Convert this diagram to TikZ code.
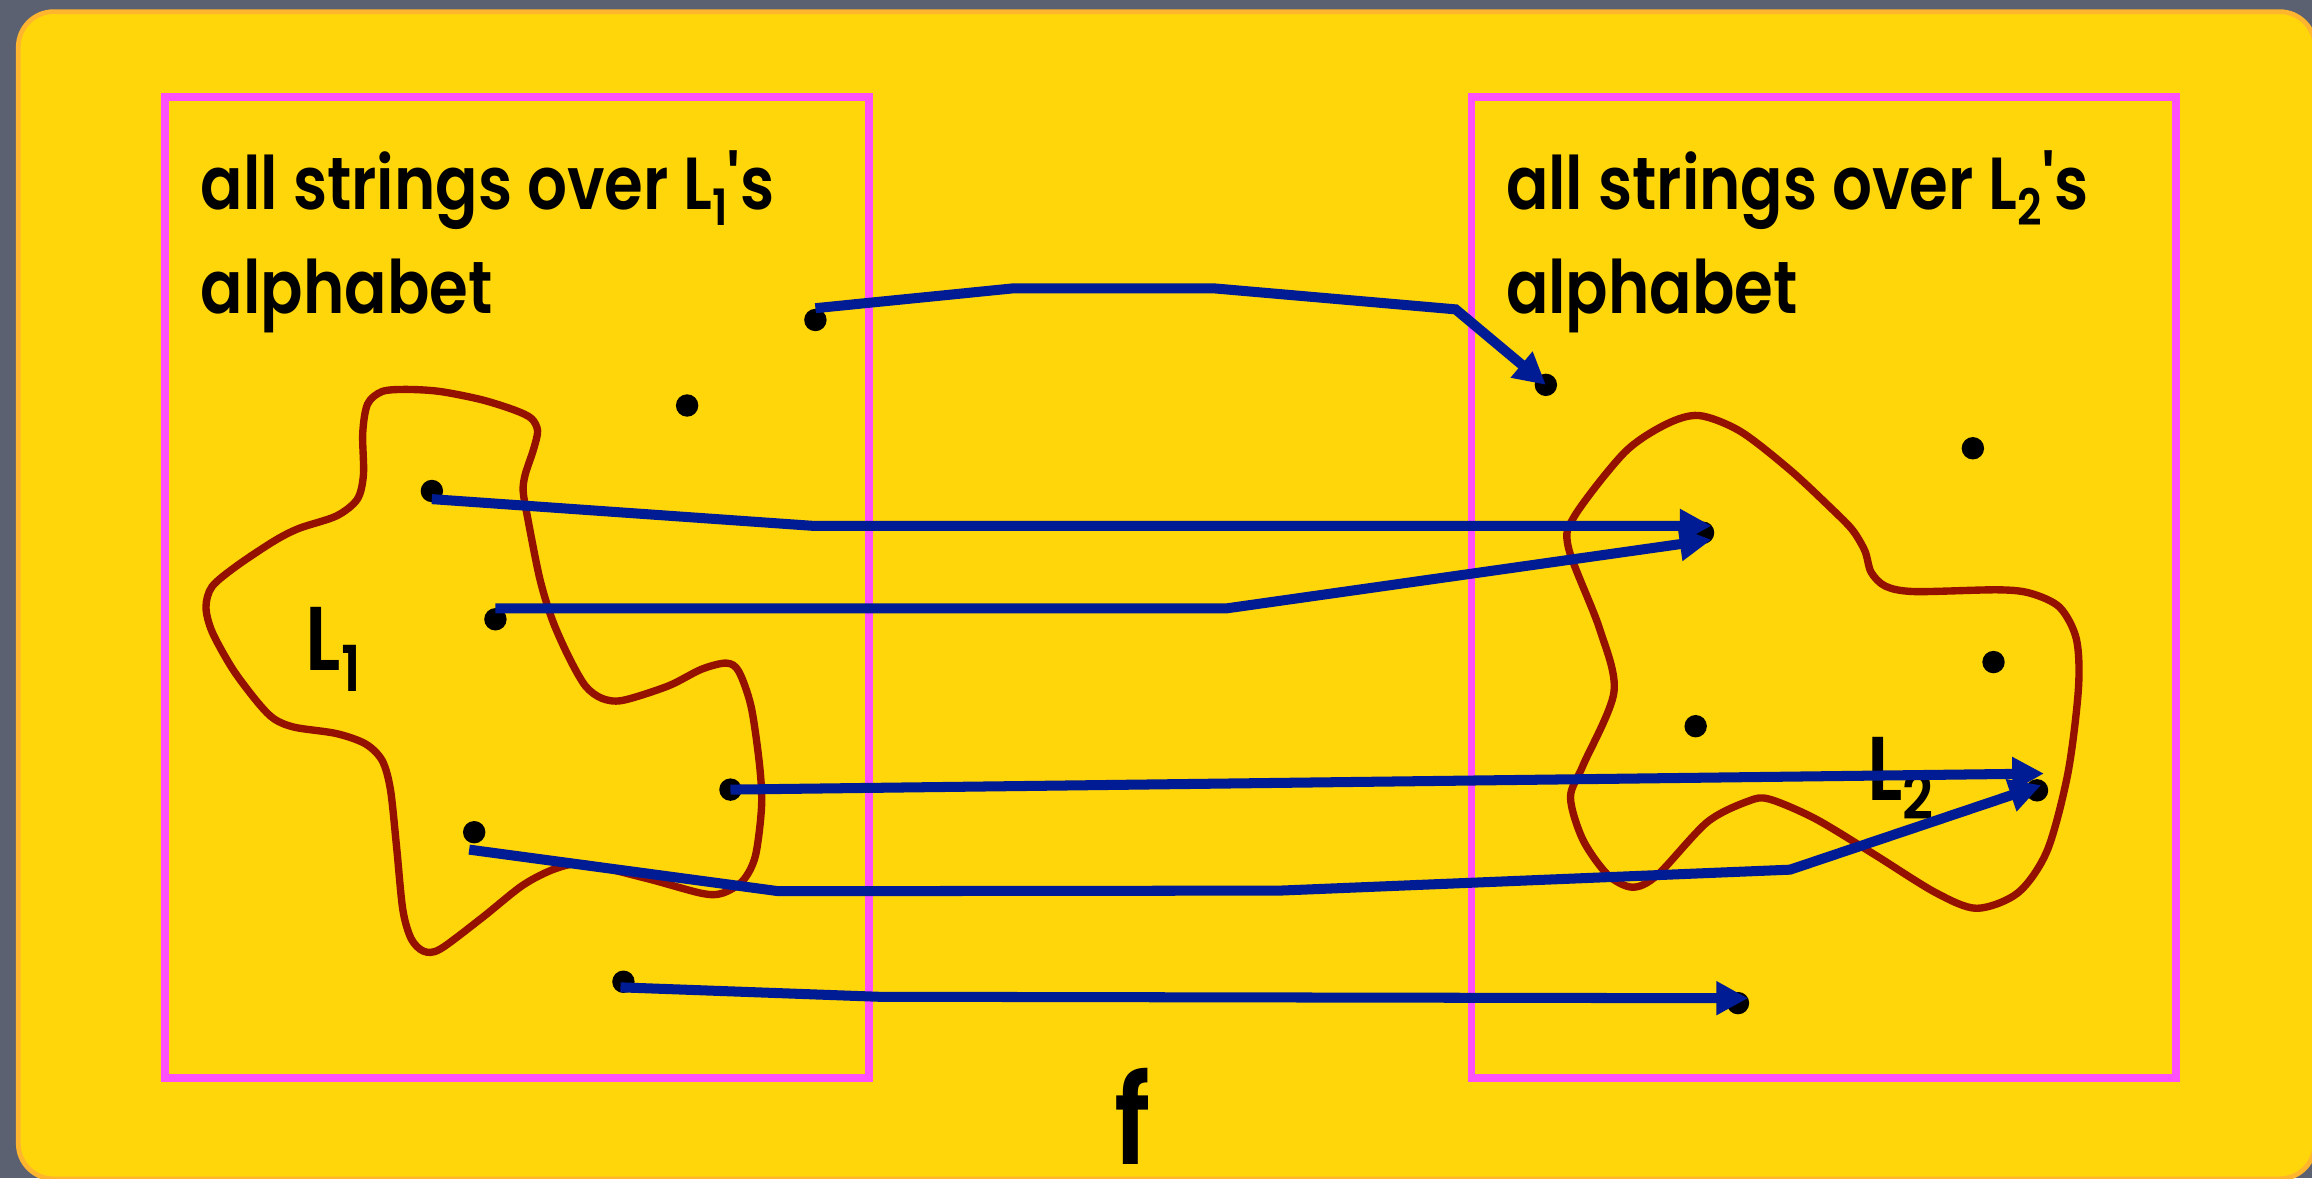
\documentclass[tikz,border=0pt]{standalone}
\usepackage{fontspec}
\newfontfamily\fut{Poppins SemiBold}[FakeStretch=0.85,Ligatures=TeXOff]
\usetikzlibrary{arrows.meta,calc}
\definecolor{bgdark}{HTML}{5C6172}
\definecolor{boardyellow}{HTML}{FFD60A}
\definecolor{boardedge}{HTML}{FFB62E}
\definecolor{boxpink}{HTML}{FF50FA}
\definecolor{blobred}{HTML}{941100}
\definecolor{mapblue}{HTML}{001C94}
\newcommand\lsub[3]{\raisebox{-#2}{\fontsize{#1}{#1}\selectfont #3}}
\begin{document}
\begin{tikzpicture}[x=0.5pt,y=-0.5pt,
  dot/.style={circle,fill=black,inner sep=0pt,minimum size=7.6pt},
  setbox/.style={draw=boxpink,line width=2.6pt},
  blob/.style={draw=blobred,line width=2.5pt},
  maparrow/.style={draw=mapblue,line width=3.4pt,-{Triangle[length=10.75pt,width=10.85pt]}},
  txt/.style={inner sep=0pt,anchor=base west,font=\fut\fontsize{25}{30}\selectfont},
  lbl/.style={inner sep=0pt,anchor=base west,font=\fut\fontsize{30.7}{36}\selectfont},
]
\fill[bgdark] (0,0) rectangle (1568,799);
\useasboundingbox (0,0) rectangle (1568,799);
\filldraw[fill=boardyellow,draw=boardedge,line width=1.6pt,rounded corners=12pt] (12.4,7.9) rectangle (1570,799.5);

% the two sets
\draw[setbox] (111.8,65.6) rectangle (589.3,731);
\draw[setbox] (998,65.6) rectangle (1475.6,731);

% languages
\draw[blob] plot[smooth cycle,tension=0.5] coordinates {
(259.2,265.5) (276.0,264.1) (298.5,265.5) (326.7,271.1) (349.2,278.2) (360.4,283.8)
(364.6,292.2) (361.8,304.9) (356.2,321.8) (354.8,333.0) (357.6,349.9) (366.0,392.1)
(374.5,420.2) (385.7,445.5) (397.0,465.2) (408.2,473.6) (422.3,475.0) (453.2,465.2)
(475.7,453.9) (492.6,449.7) (501.0,455.3) (509.4,479.2) (515.1,518.6) (516.5,546.7)
(512.3,580.5) (503.8,597.3) (489.8,605.8) (475.7,605.8) (439.1,595.9) (397.0,586.1)
(377.3,588.9) (354.8,600.2) (326.7,622.6) (298.5,643.7) (287.3,645.1) (278.9,636.7)
(273.2,617.0) (269.0,574.8) (264.8,535.5) (259.2,515.8) (247.9,504.5) (228.2,497.5)
(200.1,493.3) (186.1,487.7) (174.8,476.4) (157.9,453.9) (143.9,428.6) (139.7,411.7)
(143.9,397.7) (160.8,383.6) (186.1,366.8) (202.9,358.3) (228.2,349.9) (242.3,338.6)
(246.5,321.8) (246.0,293.6) (249.3,274.0)};
\draw[blob] plot[smooth cycle,tension=0.5] coordinates {
(1152.3,281.8) (1180.4,292.6) (1214.1,318.8) (1242.3,345.1) (1256.3,359.4) (1264.8,373.7)
(1269.0,388.1) (1278.8,397.6) (1298.5,401.2) (1354.8,400.0) (1377.2,402.4) (1396.9,411.9)
(1408.2,433.4) (1409.6,466.8) (1402.5,524.1) (1388.5,576.6) (1368.8,605.3) (1340.7,616.0)
(1312.6,605.3) (1270.4,579.0) (1231.0,555.2) (1200.1,542.0) (1186.0,543.2) (1157.9,557.5)
(1124.2,593.3) (1107.3,601.7) (1090.4,593.3) (1073.5,569.5) (1065.1,540.8) (1073.5,519.3)
(1094.6,469.2) (1084.8,426.3) (1063.7,371.4) (1067.9,349.9) (1101.7,306.9) (1129.8,287.8)};

% texts
\node[txt] (h1a) at (135.8,142) {all strings over L\lsub{17pt}{5.3pt}{1}'s};
\node[txt] (h1b) at (135.8,212.5) {alphabet};
\node[txt] (h2a) at (1021,142) {all strings over L\lsub{17pt}{5.3pt}{2}'s};
\node[txt] (h2b) at (1021,212.5) {alphabet};
\node[lbl] (l1) at (207,455) {L\lsub{21.5pt}{7pt}{1}};
\node[lbl] (l2) at (1266,543) {L\lsub{21.5pt}{6.5pt}{2}};
\node[inner sep=0pt,anchor=base,font=\fut\fontsize{42}{48}\selectfont] (fl) at (768,789.5) {f};

% strings
\node[dot] (d1) at (553,217) {};
\node[dot] (d2) at (466,275) {};
\node[dot] (d3) at (292.9,333) {};
\node[dot] (d4) at (336,420) {};
\node[dot] (d5) at (495.4,535.5) {};
\node[dot] (d6) at (321.6,564.4) {};
\node[dot] (d7) at (422.8,665.8) {};
\node[dot] (e1) at (1048.4,261) {};
\node[dot] (e2) at (1338,304) {};
\node[dot] (e3) at (1155,361.3) {};
\node[dot] (e4) at (1352,449) {};
\node[dot] (e5) at (1150,492.5) {};
\node[dot] (e6) at (1381.5,536) {};
\node[dot] (e7) at (1178.7,680.3) {};

% the mapping f
\draw[maparrow] (d1.north) -- (687.7,195.5) -- (822.6,195.5) -- (987.2,209.8) -- (e1.center);
\draw[maparrow] ($(d3)+(0,5.5)$) -- (551,356.6) -- ($(e3)+(5.7,-4.7)$);
\draw[maparrow] ($(d4)+(0,-7.4)$) -- (831.8,412.6) -- ($(e3)+(5.7,4.7)$);
\draw[maparrow] (d5.center) -- ($(e6)+(4.7,-11.4)$);
\draw[maparrow] ($(d6)+(-3.4,11.8)$) -- (528,604.4) -- (868,604) -- (1214,589.8) -- ($(e6)+(2.8,-3.5)$);
\draw[maparrow] ($(d7)+(-2,3.8)$) -- (596,676) -- ($(e7)+(6.8,-3.3)$);
\end{tikzpicture}
\end{document}
